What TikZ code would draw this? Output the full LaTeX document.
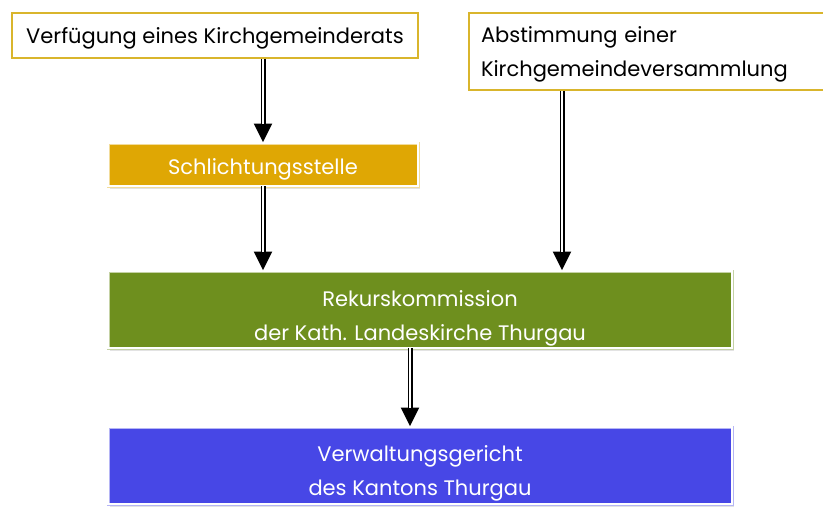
\documentclass[tikz,border=0pt]{standalone}
\usepackage{fontspec}
\setmainfont{Poppins}
\usetikzlibrary{arrows.meta,shadows}
\definecolor{rahmengold}{HTML}{D9B52C}
\definecolor{schlichtgold}{HTML}{DFA704}
\definecolor{rekursgruen}{HTML}{6E8F1E}
\definecolor{gerichtblau}{HTML}{4747E6}
\begin{document}
\begin{tikzpicture}[x=1pt,y=-1pt,
    eingabe/.style={draw=rahmengold, line width=1.8pt, fill=white, inner sep=12pt,
      font=\fontsize{21}{34}\selectfont, text=black, text depth=0pt},
    stelle/.style={fill=#1, draw=#1!40!white, double=white, double distance=1.4pt, line width=0.8pt,
      text=white, font=\fontsize{21}{34}\selectfont, align=center, text depth=0pt,
      drop shadow={shadow xshift=2pt, shadow yshift=-2.5pt, opacity=0.22}},
    weg/.style={line width=5pt, -{Triangle[length=19pt,width=17pt]}},
    wegmitte/.style={white, line width=1.8pt, shorten >=19pt}]
  \clip (0,0) rectangle (823,507);
  \node[eingabe, minimum width=406pt, minimum height=45pt, text height=15.6pt] (verfuegung) at (215,35.5)
    {Verfügung eines Kirchgemeinderats};
  \node[eingabe, minimum width=370pt, minimum height=77pt, text height=16pt, text depth=34pt,
    text width=346pt, align=left] (abstimmung) at (654,51.5)
    {Abstimmung einer\\Kirchgemeindeversammlung};
  \node[stelle=schlichtgold, minimum width=310pt, minimum height=43pt, text height=19pt] (schlichtung) at (263,164.5)
    {Schlichtungsstelle};
  \node[stelle=rekursgruen, minimum width=624pt, minimum height=77pt, text height=61pt] (rekurs) at (420,309.5)
    {Rekurskommission\\der Kath. Landeskirche Thurgau};
  \node[stelle=gerichtblau, minimum width=624pt, minimum height=77pt, text height=59pt] (gericht) at (420,465.5)
    {Verwaltungsgericht\\des Kantons Thurgau};
  \coordinate (rechts) at (562,0);
  \coordinate (unten) at (410,0);
  \draw[weg] (verfuegung.south -| schlichtung) -- (schlichtung.north);
  \draw[wegmitte] (verfuegung.south -| schlichtung) -- (schlichtung.north);
  \draw[weg] (schlichtung.south) -- (schlichtung.south |- rekurs.north);
  \draw[wegmitte] (schlichtung.south) -- (schlichtung.south |- rekurs.north);
  \draw[weg] (abstimmung.south -| rechts) -- (rekurs.north -| rechts);
  \draw[wegmitte] (abstimmung.south -| rechts) -- (rekurs.north -| rechts);
  \draw[weg] (rekurs.south -| unten) -- (gericht.north -| unten);
  \draw[wegmitte] (rekurs.south -| unten) -- (gericht.north -| unten);
\end{tikzpicture}
\end{document}
